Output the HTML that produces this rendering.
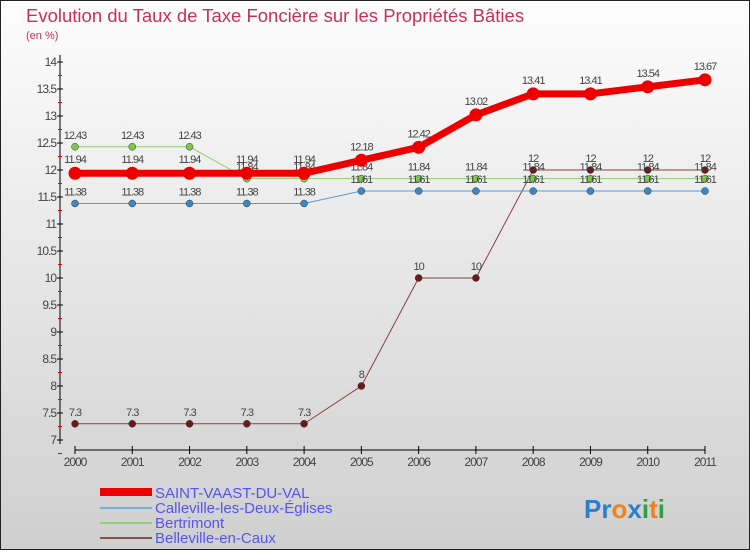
<!DOCTYPE html>
<html><head><meta charset="utf-8"><style>
html,body{margin:0;padding:0}
body{width:750px;height:550px;overflow:hidden;font-family:"Liberation Sans",sans-serif}
svg text{font-family:"Liberation Sans",sans-serif}
</style></head><body>
<svg id="c" width="750" height="550" xmlns="http://www.w3.org/2000/svg">
<defs><linearGradient id="bg" x1="0" y1="0" x2="0" y2="1"><stop offset="0" stop-color="#fdfdfd"/><stop offset="1" stop-color="#cfcfcf"/></linearGradient></defs>
<rect x="0.5" y="0.5" width="749" height="549" fill="url(#bg)" stroke="#222"/>
<text x="26" y="22" font-size="18.5" fill="#c8305a">Evolution du Taux de Taxe Foncière sur les Propriétés Bâties</text>
<text x="26" y="39" font-size="11" fill="#c8305a">(en %)</text>
<g id="axes"></g><g id="series"></g>
<g>
<rect x="100" y="488" width="52" height="8" fill="#e00"/>
<text x="155" y="498" font-size="15" fill="#5555ee">SAINT-VAAST-DU-VAL</text>
<line x1="100" y1="508" x2="152" y2="508" stroke="#7aaed0" stroke-width="2"/>
<text x="155" y="513" font-size="15" fill="#5555ee">Calleville-les-Deux-Églises</text>
<line x1="100" y1="523" x2="152" y2="523" stroke="#8fd070" stroke-width="2"/>
<text x="155" y="528" font-size="15" fill="#5555ee">Bertrimont</text>
<line x1="100" y1="538" x2="152" y2="538" stroke="#8a5050" stroke-width="2"/>
<text x="155" y="543" font-size="15" fill="#5555ee">Belleville-en-Caux</text>
</g>
<text x="584" y="518" font-size="26" font-weight="bold"><tspan fill="#2a7fd0">Pr</tspan><tspan fill="#f08020">o</tspan><tspan fill="#2a7fd0">x</tspan><tspan fill="#30a040">i</tspan><tspan fill="#f08020">t</tspan><tspan fill="#30a040">i</tspan></text>
</svg>
<script>
const years=[2000,2001,2002,2003,2004,2005,2006,2007,2008,2009,2010,2011];
const saintVaast=[11.94,11.94,11.94,11.94,11.94,12.18,12.42,13.02,13.41,13.41,13.54,13.67];
const calleville=[11.38,11.38,11.38,11.38,11.38,11.61,11.61,11.61,11.61,11.61,11.61,11.61];
const bertrimont=[12.43,12.43,12.43,11.84,11.84,11.84,11.84,11.84,11.84,11.84,11.84,11.84];
const belleville=[7.3,7.3,7.3,7.3,7.3,8,10,10,12,12,12,12];
const yTicks=[7,7.5,8,8.5,9,9.5,10,10.5,11,11.5,12,12.5,13,13.5,14];
const NS="http://www.w3.org/2000/svg";
const xS=i=>75+i*(630/11);
const yS=v=>440-(v-7)*54;
function mk(t,a,p){const e=document.createElementNS(NS,t);for(const k in a)e.setAttribute(k,a[k]);p.appendChild(e);return e;}
const ax=document.getElementById('axes');
let l=mk('line',{x1:60,y1:55,x2:60,y2:444,stroke:'#000'},ax);


yTicks.forEach(v=>{
 const y=yS(v);
 mk('line',{x1:57,y1:y,x2:63,y2:y,stroke:'#000'},ax);
 mk('line',{x1:58,y1:y+13.5,x2:62,y2:y+13.5,stroke:'#e00'},ax);
 const t=mk('text',{x:56,y:y+4,'font-size':12,fill:'#444','text-anchor':'end','letter-spacing':'-1'},ax);
 t.textContent=v;
 
 
});
l=mk('line',{x1:75,y1:450,x2:705,y2:450,stroke:'#000'},ax);


years.forEach((yr,i)=>{
 const x=xS(i);
 mk('line',{x1:x,y1:446,x2:x,y2:454,stroke:'#000'},ax);
 const t=mk('text',{x:x,y:466,'font-size':12,fill:'#444','text-anchor':'middle','letter-spacing':'-1'},ax);
 t.textContent=yr;
 
 
});
const sg=document.getElementById('series');
function series(vals,name,color,w,r,dot){
 const g=mk('g',{},sg);
 
 
 const line=mk('polyline',{points:vals.map((v,i)=>xS(i)+','+yS(v)).join(' '),fill:'none',stroke:color,'stroke-width':w},g);
 
 
 vals.forEach((v,i)=>{
  const c=mk('circle',{cx:xS(i),cy:yS(v),r:r,fill:dot,stroke:r>4?'none':'#333','stroke-width':0.5},g);
  
  
  const t=mk('text',{x:xS(i),y:yS(v)-(r>4?10:8),'font-size':11,fill:'#444','text-anchor':'middle','letter-spacing':'-1'},g);
  t.textContent=v;
  
  
 });
}
series(belleville,'belleville','#8a4040',1,3.5,'#6a1a1a');
series(bertrimont,'bertrimont','#8fd070',1,3.5,'#7cc84a');
series(calleville,'calleville','#5a9ad0',1,3.5,'#3a88c8');
series(saintVaast,'saint-vaast','#e00',7,6.5,'#e00');
</script>
</body></html>
